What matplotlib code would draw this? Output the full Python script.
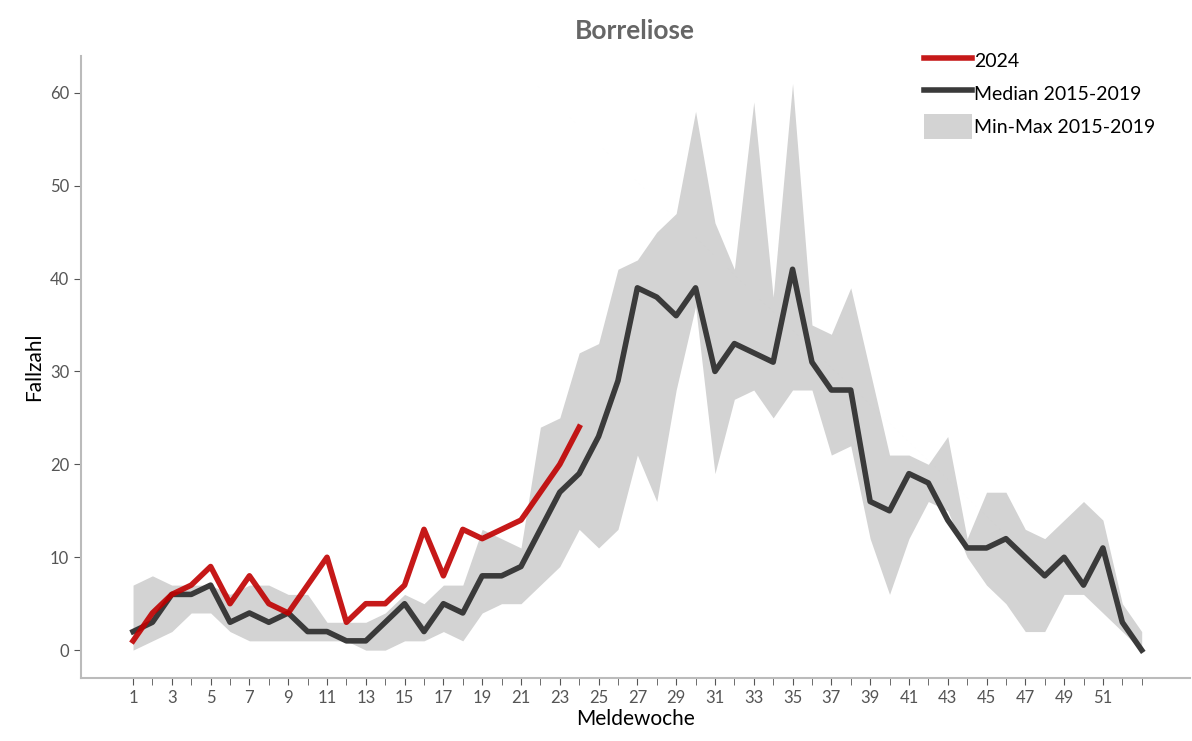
import matplotlib.pyplot as plt

plt.rcParams['font.family'] = ['Lato', 'DejaVu Sans']

weeks = list(range(1, 54))
median = [2, 3, 6, 6, 7, 3, 4, 3, 4, 2, 2, 1, 1, 3, 5, 2, 5, 4, 8, 8, 9, 13, 17, 19, 23, 29,
          39, 38, 36, 39, 30, 33, 32, 31, 41, 31, 28, 28, 16, 15, 19, 18, 14, 11, 11, 12, 10,
          8, 10, 7, 11, 3, 0]
band_min = [0, 1, 2, 4, 4, 2, 1, 1, 1, 1, 1, 1, 0, 0, 1, 1, 2, 1, 4, 5, 5, 7, 9, 13, 11, 13,
            21, 16, 28, 37, 19, 27, 28, 25, 28, 28, 21, 22, 12, 6, 12, 16, 15, 10, 7, 5, 2,
            2, 6, 6, 4, 2, 0]
band_max = [7, 8, 7, 7, 7, 6, 7, 7, 6, 6, 3, 3, 3, 4, 6, 5, 7, 7, 13, 12, 11, 24, 25, 32, 33,
            41, 42, 45, 47, 58, 46, 41, 59, 38, 61, 35, 34, 39, 30, 21, 21, 20, 23, 12, 17,
            17, 13, 12, 14, 16, 14, 5, 2]
weeks_2024 = list(range(1, 25))
cases_2024 = [1, 4, 6, 7, 9, 5, 8, 5, 4, 7, 10, 3, 5, 5, 7, 13, 8, 13, 12, 13, 14, 17, 20, 24]

fig, ax = plt.subplots(figsize=(11.92, 7.41), dpi=100)
fig.subplots_adjust(left=0.068, right=0.998, top=0.925, bottom=0.085)

ax.fill_between(weeks, band_min, band_max, color='#d3d3d3', lw=0, label='Min-Max 2015-2019')
ax.plot(weeks, median, color='#3a3a3a', lw=4, label='Median 2015-2019')
ax.plot(weeks_2024, cases_2024, color='#c00000', lw=4, alpha=0.9, label='2024')

ax.set_xlim(-1.68, 55.47)
ax.set_ylim(-3, 64)
ax.set_xticks(range(1, 53, 2))
ax.set_xticks(range(1, 54), minor=True)
ax.set_yticks(range(0, 61, 10))
ax.tick_params(colors='#555555', labelsize=12, length=5)
ax.tick_params(which='minor', length=5, color='#555555')
for s in ['top', 'right']:
    ax.spines[s].set_visible(False)
for s in ['left', 'bottom']:
    ax.spines[s].set_color('#bbbbbb')
    ax.spines[s].set_linewidth(1.5)

ax.set_title('Borreliose', fontsize=19, fontweight='bold', color='#666666', pad=12)
ax.set_xlabel('Meldewoche', fontsize=15, labelpad=2)
ax.set_ylabel('Fallzahl', fontsize=15)

h, l = ax.get_legend_handles_labels()
ax.legend(h[::-1], l[::-1], loc='upper right', bbox_to_anchor=(0.985, 1.04), frameon=False,
          fontsize=14, handlelength=2.5, handleheight=1.6, handletextpad=0.1, labelspacing=0.4)

fig.savefig('out.png')
